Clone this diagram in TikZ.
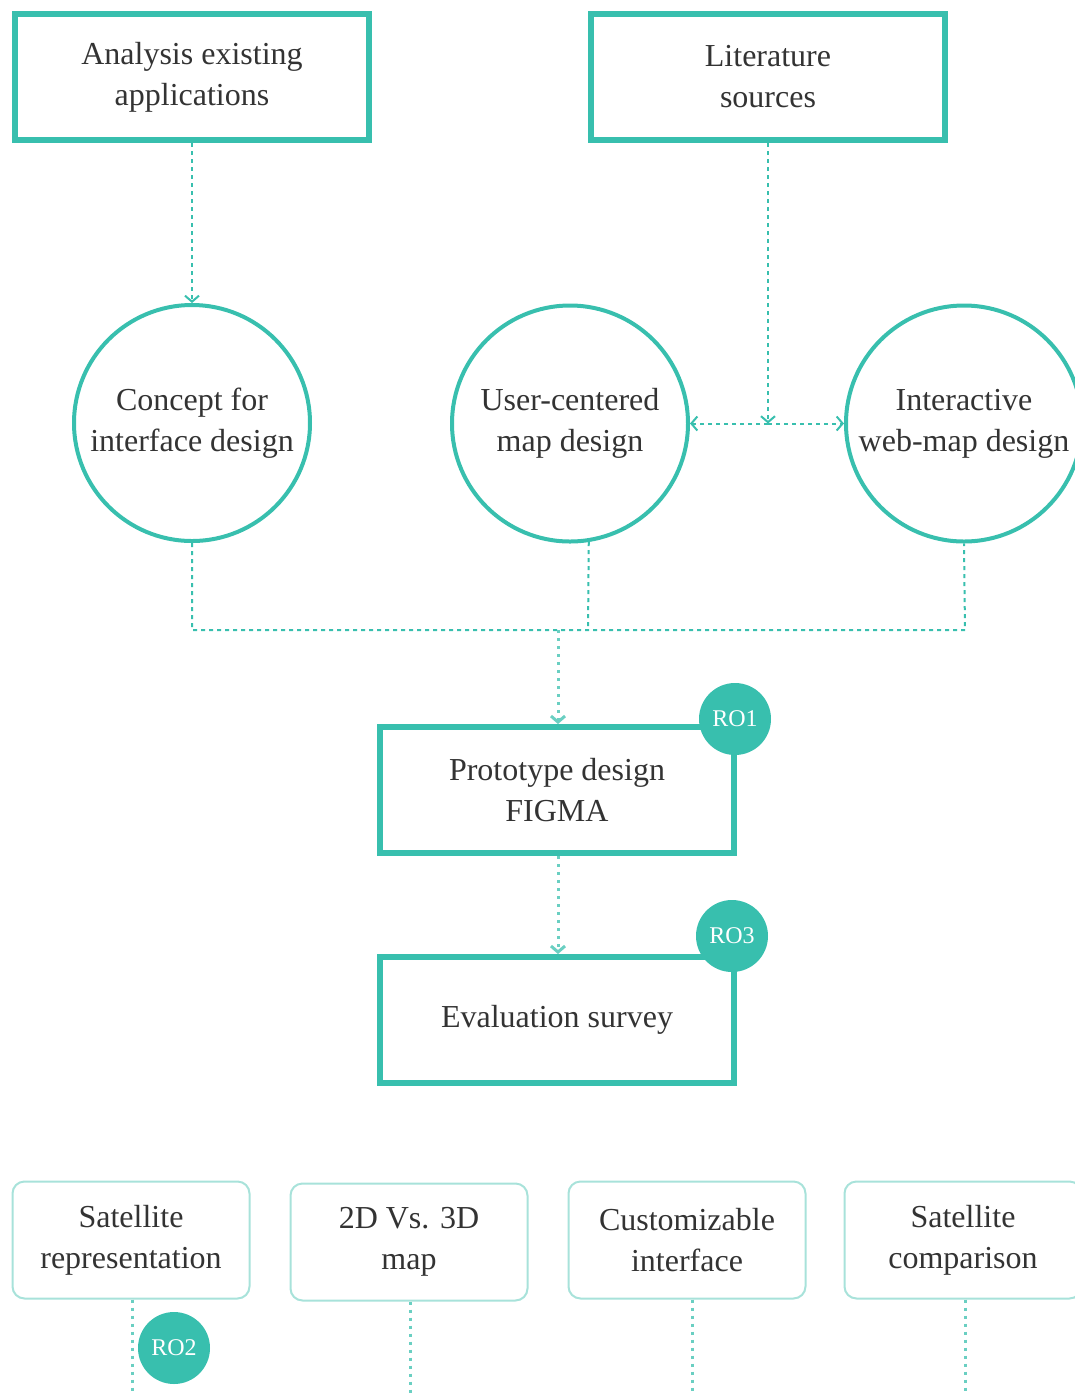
\documentclass[tikz,border=0pt]{standalone}
\usepackage{fontspec}
\setmainfont{Liberation Serif}
\usetikzlibrary{arrows.meta}
\definecolor{teal1}{HTML}{38BFAE}
\definecolor{tealL}{HTML}{A8E2DA}
\definecolor{txt}{HTML}{333333}
\begin{document}
\begin{tikzpicture}[x=0.5pt,y=-0.5pt,
  lbl/.style={align=center,text=txt,font=\fontsize{16}{20.5}\selectfont},
  thickbox/.style={lbl,draw=teal1,line width=3pt,minimum width=177pt,minimum height=63pt,inner sep=0pt},
  circ/.style={lbl,circle,draw=teal1,line width=2pt,minimum size=118pt,inner sep=0pt},
  soft/.style={lbl,draw=tealL,line width=1pt,rounded corners=6pt,minimum width=118.5pt,minimum height=58.5pt,inner sep=0pt},
  badge/.style={circle,fill=teal1,minimum size=36pt,inner sep=0pt,text=white,font=\fontsize{12}{12}\selectfont},
  dashln/.style={draw=teal1,line width=1pt,dash pattern=on 2pt off 2pt},
  dotln/.style={draw=teal1!75,line width=1.5pt,dash pattern=on 1.5pt off 2.5pt},
  arr/.style={-{Straight Barb[length=3pt,width=7pt]}}
]
\useasboundingbox (0,0) rectangle (1075,1394);

% top boxes
\node[thickbox] (A) at (192,77) {Analysis existing\\applications};
\node[thickbox] (L) at (768,77) {Literature\\sources};

% circles
\node[circ] (C1) at (192,423) {Concept for\\interface design};
\node[circ] (C2) at (570,423.5) {User-centered\\map design};
\node[circ] (C3) at (964,423.5) {Interactive\\web-map design};

% middle boxes
\node[thickbox] (P) at (557,790) {Prototype design\\FIGMA};
\node[thickbox] (E) at (557,1020) {Evaluation survey};

% bottom boxes
\node[soft] (B1) at (131,1240) {Satellite\\representation};
\node[soft] (B2) at (409,1242) {2D Vs. 3D\\map};
\node[soft] (B3) at (687,1240) {Customizable\\interface};
\node[soft] (B4) at (963,1240) {Satellite\\comparison};

% connectors top
\draw[dashln,arr] (A.south) -- (C1.north);
\coordinate (J) at (768,423.5);
\draw[dashln,arr] (L.south) -- (J);
\draw[dashln,arr] (J) -- (C2.east);
\draw[dashln,arr] (J) -- (C3.west);

% bus
\coordinate (b1) at (192,630);
\coordinate (b2) at (588,630);
\coordinate (b3) at (965,630);
\coordinate (bm) at (558,630);
\draw[dashln] (C1.south) -- (b1) -- (b3) -- (C3.south);
\draw[dashln] (C2.-81) -- (b2);
\draw[dotln,arr] (bm) -- (P.north -| bm);
\draw[dotln,arr] (P.south -| bm) -- (E.north -| bm);

% bottom drops
\coordinate (d1) at (132,1394);
\coordinate (d2) at (410,1394);
\coordinate (d3) at (692,1394);
\coordinate (d4) at (965,1394);
\draw[dotln] (B1.south -| d1) -- (d1);
\draw[dotln] (B2.south -| d2) -- (d2);
\draw[dotln] (B3.south -| d3) -- (d3);
\draw[dotln] (B4.south -| d4) -- (d4);

% badges
\node[badge] (R1) at (735,719) {RO1};
\node[badge] (R3) at (732,936) {RO3};
\node[badge] (R2) at (174,1348) {RO2};
\end{tikzpicture}
\end{document}
